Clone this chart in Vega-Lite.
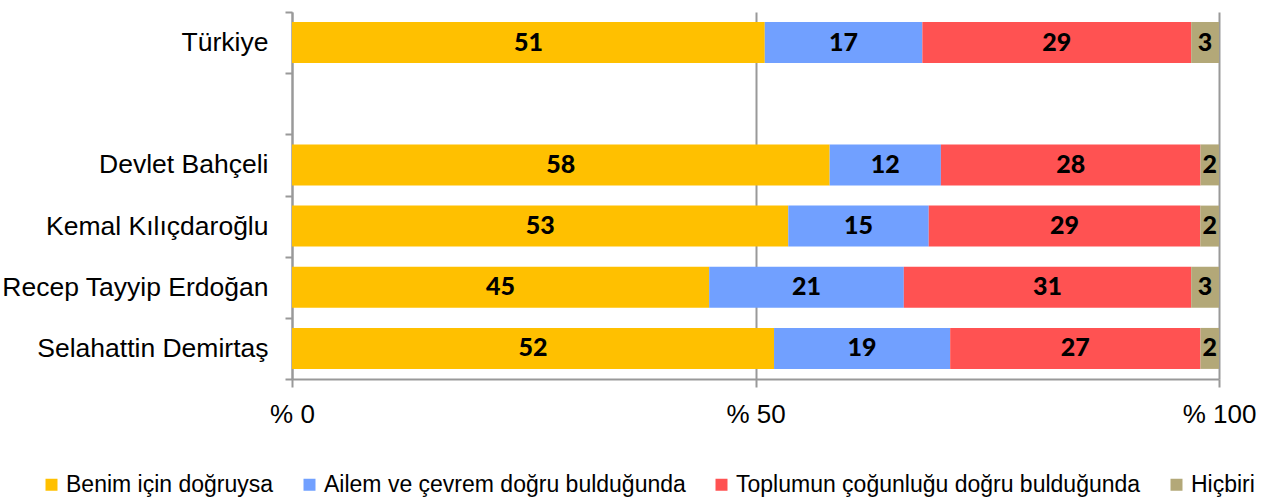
{
  "$schema": "https://vega.github.io/schema/vega-lite/v6.json",
  "width": 927,
  "height": 367,
  "autosize": {"type": "none"},
  "padding": {"left": 292, "top": 12, "right": 55, "bottom": 118},
  "background": "white",
  "config": {"view": {"stroke": null}},
  "data": {
    "values": [
      {"kisi": "Türkiye", "cevap": "Benim için doğruysa", "k": 1, "deger": 51},
      {"kisi": "Türkiye", "cevap": "Ailem ve çevrem doğru bulduğunda", "k": 2, "deger": 17},
      {"kisi": "Türkiye", "cevap": "Toplumun çoğunluğu doğru bulduğunda", "k": 3, "deger": 29},
      {"kisi": "Türkiye", "cevap": "Hiçbiri", "k": 4, "deger": 3},
      {"kisi": "Devlet Bahçeli", "cevap": "Benim için doğruysa", "k": 1, "deger": 58},
      {"kisi": "Devlet Bahçeli", "cevap": "Ailem ve çevrem doğru bulduğunda", "k": 2, "deger": 12},
      {"kisi": "Devlet Bahçeli", "cevap": "Toplumun çoğunluğu doğru bulduğunda", "k": 3, "deger": 28},
      {"kisi": "Devlet Bahçeli", "cevap": "Hiçbiri", "k": 4, "deger": 2},
      {"kisi": "Kemal Kılıçdaroğlu", "cevap": "Benim için doğruysa", "k": 1, "deger": 53},
      {"kisi": "Kemal Kılıçdaroğlu", "cevap": "Ailem ve çevrem doğru bulduğunda", "k": 2, "deger": 15},
      {"kisi": "Kemal Kılıçdaroğlu", "cevap": "Toplumun çoğunluğu doğru bulduğunda", "k": 3, "deger": 29},
      {"kisi": "Kemal Kılıçdaroğlu", "cevap": "Hiçbiri", "k": 4, "deger": 2},
      {"kisi": "Recep Tayyip Erdoğan", "cevap": "Benim için doğruysa", "k": 1, "deger": 45},
      {"kisi": "Recep Tayyip Erdoğan", "cevap": "Ailem ve çevrem doğru bulduğunda", "k": 2, "deger": 21},
      {"kisi": "Recep Tayyip Erdoğan", "cevap": "Toplumun çoğunluğu doğru bulduğunda", "k": 3, "deger": 31},
      {"kisi": "Recep Tayyip Erdoğan", "cevap": "Hiçbiri", "k": 4, "deger": 3},
      {"kisi": "Selahattin Demirtaş", "cevap": "Benim için doğruysa", "k": 1, "deger": 52},
      {"kisi": "Selahattin Demirtaş", "cevap": "Ailem ve çevrem doğru bulduğunda", "k": 2, "deger": 19},
      {"kisi": "Selahattin Demirtaş", "cevap": "Toplumun çoğunluğu doğru bulduğunda", "k": 3, "deger": 27},
      {"kisi": "Selahattin Demirtaş", "cevap": "Hiçbiri", "k": 4, "deger": 2}
    ]
  },
  "encoding": {
    "y": {
      "field": "kisi",
      "type": "nominal",
      "title": null,
      "scale": {
        "domain": ["Türkiye", " ", "Devlet Bahçeli", "Kemal Kılıçdaroğlu", "Recep Tayyip Erdoğan", "Selahattin Demirtaş"],
        "paddingInner": 0,
        "paddingOuter": 0
      },
      "axis": {
        "tickBand": "extent",
        "domainColor": "#999999",
        "domainWidth": 2,
        "tickColor": "#999999",
        "tickWidth": 2,
        "tickSize": 7,
        "labelPadding": 17,
        "labelFont": "Liberation Sans",
        "labelFontSize": 26.5,
        "labelColor": "#000000",
        "labelLimit": 400,
        "grid": false
      }
    },
    "x": {
      "field": "deger",
      "type": "quantitative",
      "stack": "normalize",
      "title": null,
      "scale": {"domain": [0, 1], "nice": false},
      "axis": {
        "values": [0, 0.5, 1],
        "labelExpr": "'% ' + round(datum.value * 100)",
        "grid": true,
        "gridColor": "#999999",
        "gridWidth": 2,
        "domainColor": "#999999",
        "domainWidth": 2,
        "tickColor": "#999999",
        "tickWidth": 2,
        "tickSize": 8,
        "labelPadding": 14,
        "labelFont": "Liberation Sans",
        "labelFontSize": 26,
        "labelColor": "#000000",
        "labelFlush": false
      }
    },
    "order": {"field": "k", "type": "quantitative"}
  },
  "layer": [
    {
      "mark": {"type": "bar", "stroke": null, "height": {"band": 0.67}},
      "encoding": {
        "color": {
          "field": "cevap",
          "type": "nominal",
          "scale": {
            "domain": ["Benim için doğruysa", "Ailem ve çevrem doğru bulduğunda", "Toplumun çoğunluğu doğru bulduğunda", "Hiçbiri"],
            "range": ["#FFC000", "#71A0FF", "#FF5252", "#B3A878"]
          },
          "legend": {
            "orient": "none",
            "direction": "horizontal",
            "legendX": -252,
            "legendY": 461,
            "title": null,
            "padding": 0,
            "symbolType": "square",
            "symbolSize": 144,
            "symbolStrokeWidth": 0,
            "symbolOpacity": 1,
            "labelFont": "Liberation Sans",
            "labelFontSize": 23,
            "labelColor": "#000000",
            "labelOffset": 3,
            "columnPadding": 24,
            "labelLimit": 500
          }
        }
      }
    },
    {
      "mark": {"type": "text", "font": "Lato", "fontWeight": 900, "fontSize": 25, "color": "#000000", "baseline": "middle", "align": "center"},
      "encoding": {
        "x": {"field": "deger", "type": "quantitative", "stack": "normalize", "bandPosition": 0.5},
        "text": {"field": "deger", "type": "quantitative"}
      }
    }
  ]
}
